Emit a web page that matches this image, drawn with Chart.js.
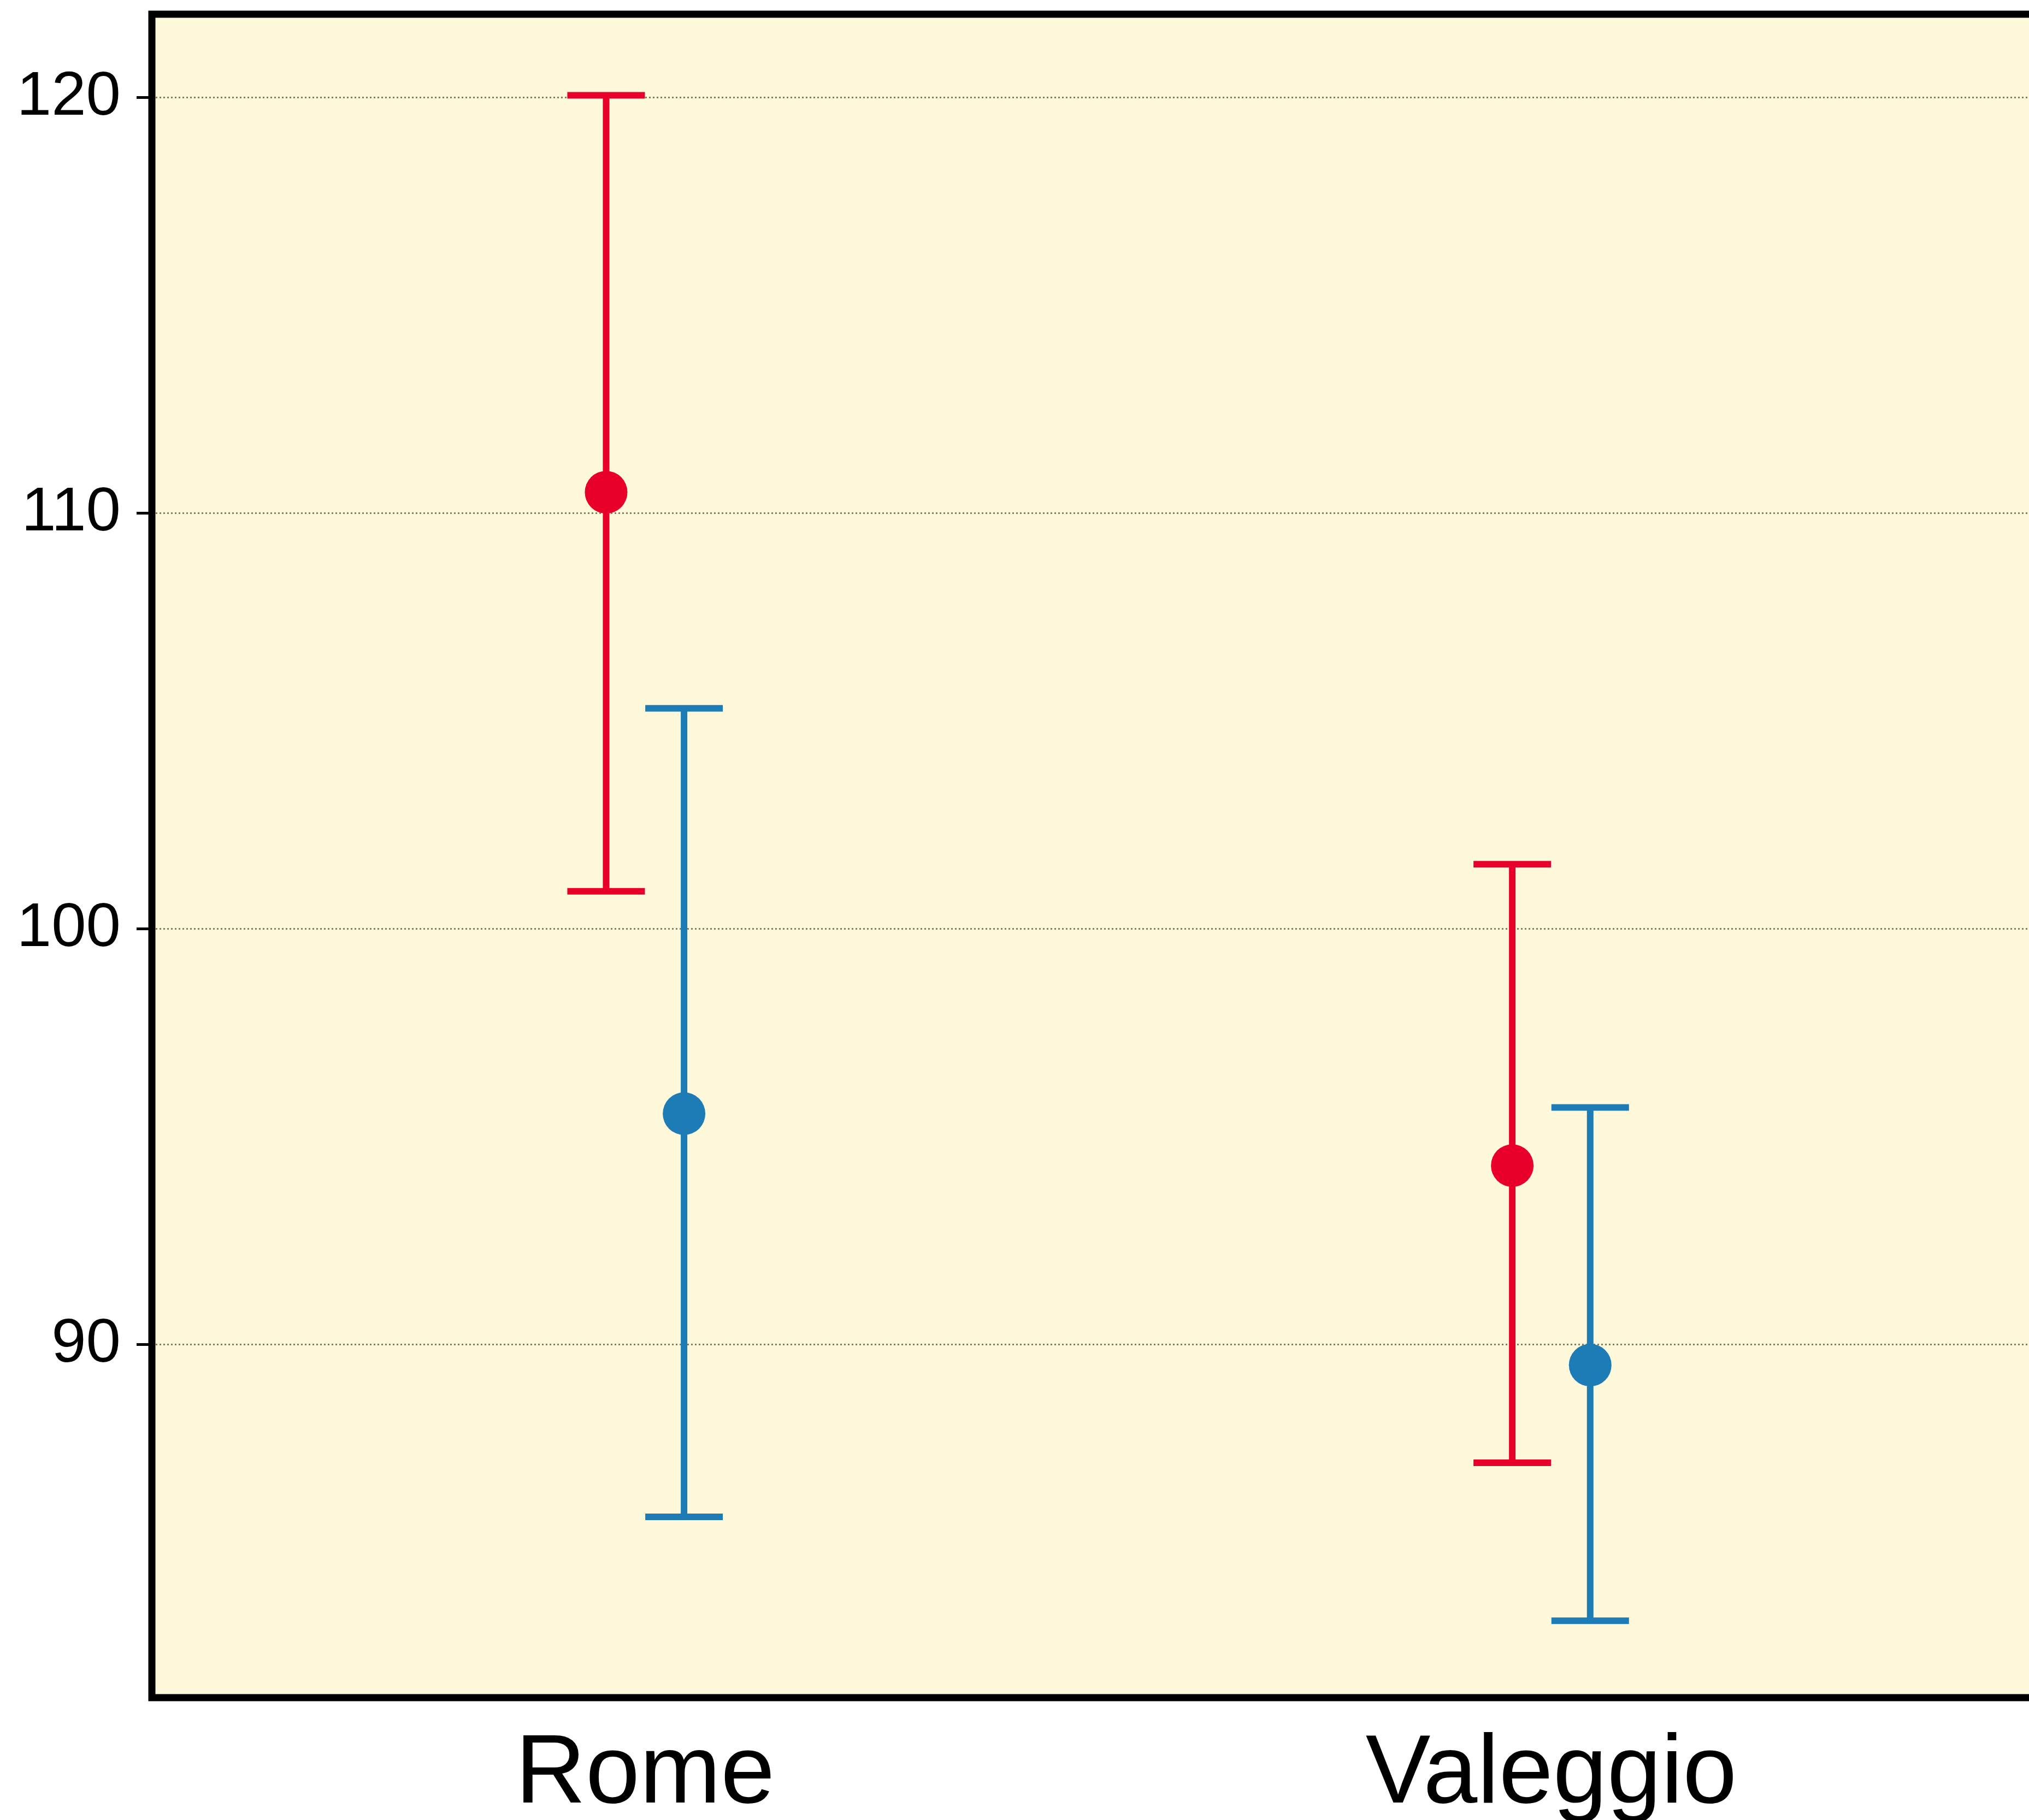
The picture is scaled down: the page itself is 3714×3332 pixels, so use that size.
<!DOCTYPE html>
<html>
<head>
<meta charset="utf-8">
<script src="https://cdn.jsdelivr.net/npm/chart.js@4/dist/chart.umd.min.js"></script>
<style>
  html, body { margin: 0; padding: 0; background: #ffffff; overflow: hidden; }
  #wrap { width: 3714px; height: 3332px; overflow: hidden; position: relative; }
  canvas { display: block; }
</style>
</head>
<body>
<div id="wrap"><canvas id="c" width="3760" height="3332"></canvas></div>
<script>
// ---- data ----
const categories = ['Rome', 'Valeggio'];
const yTickValues = [90, 100, 110, 120];

const redMean = [110.5, 94.3];
const redLow  = [100.9, 87.15];
const redHigh = [120.05, 101.55];

const blueMean = [95.55, 89.5];
const blueLow  = [85.85, 83.35];
const blueHigh = [105.3, 95.7];

const seriesOffset = 0.043;   // horizontal dodge of the two series within a category
const RED = '#E8002B';
const BLUE = '#1D7CB6';

function pts(means, lows, highs, off) {
  return means.map((m, i) => ({ x: i + 1 + off, y: m, lo: lows[i], hi: highs[i] }));
}

const errorBars = {
  id: 'errorBars',
  beforeDatasetsDraw(chart) {
    const ctx = chart.ctx;
    const xs = chart.scales.x, ys = chart.scales.y;
    chart.data.datasets.forEach(ds => {
      ctx.save();
      ctx.strokeStyle = ds.borderColor;
      ctx.lineWidth = 12;
      ctx.lineCap = 'butt';
      ds.data.forEach(p => {
        const x = xs.getPixelForValue(p.x);
        const yl = ys.getPixelForValue(p.lo);
        const yh = ys.getPixelForValue(p.hi);
        const half = 71;
        ctx.beginPath();
        ctx.moveTo(x, yl); ctx.lineTo(x, yh);
        ctx.moveTo(x - half, yl); ctx.lineTo(x + half, yl);
        ctx.moveTo(x - half, yh); ctx.lineTo(x + half, yh);
        ctx.stroke();
      });
      ctx.restore();
    });
  }
};

const panel = {
  id: 'panel',
  beforeDraw(chart) {
    const { ctx, chartArea: a } = chart;
    ctx.save();
    ctx.fillStyle = '#FEF9DB';
    ctx.fillRect(a.left, a.top, a.right - a.left, a.bottom - a.top);
    ctx.restore();
  },
  afterDraw(chart) {
    const { ctx, chartArea: a } = chart;
    ctx.save();
    ctx.strokeStyle = '#000000';
    ctx.lineWidth = 13;
    ctx.strokeRect(a.left, a.top, a.right - a.left, a.bottom - a.top);
    ctx.restore();
  }
};

new Chart(document.getElementById('c'), {
  type: 'scatter',
  data: {
    datasets: [
      { label: 'red', data: pts(redMean, redLow, redHigh, -seriesOffset),
        backgroundColor: RED, borderColor: RED, pointRadius: 39, pointBorderWidth: 0 },
      { label: 'blue', data: pts(blueMean, blueLow, blueHigh, seriesOffset),
        backgroundColor: BLUE, borderColor: BLUE, pointRadius: 39, pointBorderWidth: 0 }
    ]
  },
  options: {
    responsive: false,
    animation: false,
    devicePixelRatio: 1,
    layout: { autoPadding: false, padding: { top: 26, left: 0, right: 0, bottom: 0 } },
    plugins: { legend: { display: false }, tooltip: { enabled: false } },
    scales: {
      x: {
        type: 'linear',
        min: 0.4557,
        max: 2.555,
        afterBuildTicks(scale) { scale.ticks = categories.map((c, i) => ({ value: i + 1 })); },
        afterFit(scale) { scale.height = 224; scale.paddingLeft = 0; scale.paddingRight = 0; },
        grid: { display: false },
        border: { display: false },
        ticks: {
          callback: (v) => categories[Math.round(v) - 1] || '',
          font: { family: 'Liberation Sans', size: 178 },
          color: '#000000',
          padding: 28,
          maxRotation: 0,
          autoSkip: false
        }
      },
      y: {
        type: 'linear',
        min: 81.5,
        max: 122,
        afterBuildTicks(scale) { scale.ticks = yTickValues.map(v => ({ value: v })); },
        afterFit(scale) { scale.width = 278; scale.paddingTop = 0; scale.paddingBottom = 0; },
        grid: {
          color: '#857F62',
          lineWidth: 3,
          tickColor: '#000000',
          tickWidth: 5,
          tickLength: 28
        },
        border: { display: false, dash: [3, 4] },
        ticks: {
          font: { family: 'Liberation Sans', size: 114 },
          color: '#000000',
          padding: 29
        }
      }
    }
  },
  plugins: [panel, errorBars]
});
</script>
</body>
</html>
